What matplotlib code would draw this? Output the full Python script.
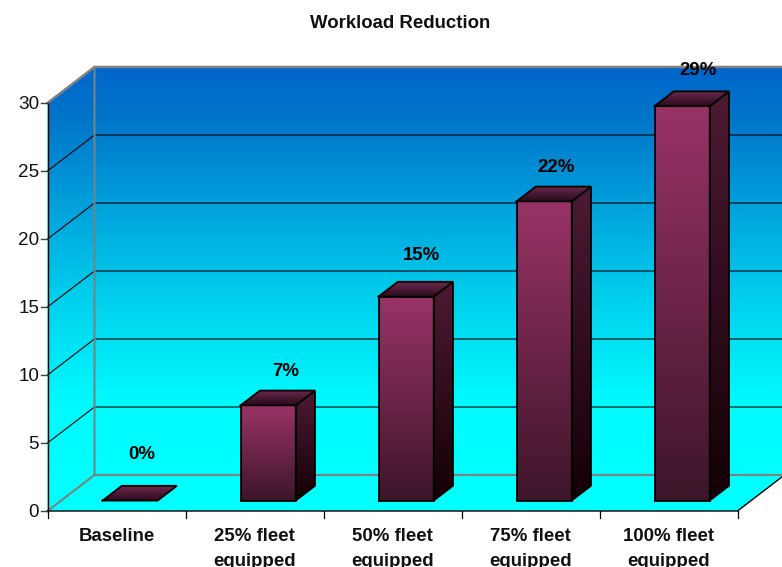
import numpy as np
import matplotlib
matplotlib.use("Agg")
import matplotlib.pyplot as plt
from matplotlib.colors import LinearSegmentedColormap
from matplotlib.patches import Polygon

plt.rcParams['font.family'] = ['Liberation Sans', 'DejaVu Sans']

categories = ['Baseline', '25% fleet\nequipped', '50% fleet\nequipped',
              '75% fleet\nequipped', '100% fleet\nequipped']
values = [0, 7, 15, 22, 29]
y_ticks = [0, 5, 10, 15, 20, 25, 30]
title = 'Workload Reduction'

# pixel layout of the 3D box
X0, Y0 = 47.5, 511.0
CAT_W = 138.0
UNIT = 13.6
DX, DY = 47.0, -36.0
BAR_W = 0.40
BAR_FRONT, BAR_BACK = 0.29, 0.70

# nudges for the value labels, in pixels
label_dx = [-8, -2, -4, -7, -3]
label_dy = [-46, -34, -41, -34, -36]


def proj(cat, val, depth=0.0):
    # category units, value units, depth 0..1 -> pixel position
    return (X0 + cat * CAT_W + depth * DX, Y0 - val * UNIT + depth * DY)


def gradient_poly(ax, pts, stops, y_top, y_bot):
    # vertical gradient clipped to a polygon
    cmap = LinearSegmentedColormap.from_list('g', stops)
    pts = np.array(pts)
    grad = np.linspace(0, 1, 256)[:, None]
    im = ax.imshow(grad, cmap=cmap, aspect='auto', zorder=ax_z[0],
                   extent=[pts[:, 0].min(), pts[:, 0].max(), y_bot, y_top])
    im.set_clip_path(Polygon(pts, closed=True, transform=ax.transData))
    ax_z[0] += 0.01


def edge(ax, pts, color='black', lw=1.0, close=False):
    pts = list(pts)
    if close:
        pts.append(pts[0])
    xs, ys = zip(*pts)
    ax.plot(xs, ys, color=color, lw=lw, solid_capstyle='projecting',
            solid_joinstyle='miter', zorder=ax_z[0])
    ax_z[0] += 0.01


ax_z = [1.0]
fig = plt.figure(figsize=(7.82, 5.67), dpi=100)
ax = fig.add_axes([0, 0, 1, 1])

n = len(categories)
top = y_ticks[-1]
wall_stops = [(0.0, '#0066CC'), (0.12, '#0074C8'), (0.3, '#0098D8'),
              (0.55, '#00CCEC'), (0.82, '#00FAFE'), (1.0, '#00FFFF')]
wall_top = proj(0, top, 1)[1]
wall_bot = proj(0, 0, 1)[1]

# back wall, left wall and floor
gradient_poly(ax, [proj(0, 0, 1), proj(0, top, 1), proj(n, top, 1), proj(n, 0, 1)],
              wall_stops, wall_top, wall_bot)
left_wall = [proj(0, 0, 0), proj(0, top, 0), proj(0, top, 1), proj(0, 0, 1)]
ax.add_patch(Polygon(left_wall, closed=True, fc='#00FFFF', ec='none', zorder=ax_z[0]))
ax_z[0] += 0.01
gradient_poly(ax, left_wall, wall_stops, wall_top, wall_bot)
floor = [proj(0, 0, 0), proj(n, 0, 0), proj(n, 0, 1), proj(0, 0, 1)]
ax.add_patch(Polygon(floor, closed=True, fc='#00FFFF', ec='none', zorder=ax_z[0]))
ax_z[0] += 0.01

# gridlines run across the left wall and along the back
for t in y_ticks[1:-1]:
    edge(ax, [proj(0, t, 0), proj(0, t, 1), proj(n, t, 1)], lw=0.8)

# grey wall outlines
GREY = '#808080'
edge(ax, [proj(0, 0, 1), proj(n, 0, 1)], GREY, 1.5)
edge(ax, [proj(0, 0, 0), proj(0, 0, 1), proj(0, top, 1)], GREY, 1.5)
edge(ax, [proj(0, top, 0), proj(0, top, 1), proj(n, top, 1)], GREY, 1.8)

# axis lines and ticks
edge(ax, [proj(0, 0, 0), proj(0, top, 0)], lw=1.0)
edge(ax, [proj(0, 0, 0), proj(n, 0, 0), proj(n, 0, 1)], lw=1.0)
for t in y_ticks:
    x, y = proj(0, t, 0)
    edge(ax, [(x - 7, y), (x, y)], '#404040', 1.0)
    ax.text(x - 8.5, y + 1.5, str(t), ha='right', va='center', fontsize=13.6,
            color='#111111', zorder=20)
for i in range(n + 1):
    x, y = proj(i, 0, 0)
    edge(ax, [(x, y), (x, y + 7)], lw=0.9)

# bars
for i, v in enumerate(values):
    l, r = i + 0.5 - BAR_W / 2, i + 0.5 + BAR_W / 2
    f0, f1 = proj(l, 0, BAR_FRONT), proj(r, 0, BAR_FRONT)
    ft0, ft1 = proj(l, v, BAR_FRONT), proj(r, v, BAR_FRONT)
    b1, bt0, bt1 = proj(r, 0, BAR_BACK), proj(l, v, BAR_BACK), proj(r, v, BAR_BACK)

    if v > 0:
        gradient_poly(ax, [f0, f1, ft1, ft0], ['#993366', '#3D1529'], ft0[1], f0[1])
        gradient_poly(ax, [f1, b1, bt1, ft1], ['#4D1A33', '#140006'], bt1[1], f1[1])
        edge(ax, [f0, f1, ft1, ft0], lw=1.3, close=True)
        edge(ax, [f1, b1, bt1, ft1], lw=1.3, close=True)
    gradient_poly(ax, [ft0, ft1, bt1, bt0], ['#6B2A4D', '#2B0A1C'], bt0[1], ft0[1])
    edge(ax, [ft0, ft1, bt1, bt0], lw=1.3, close=True)

    cx = (ft0[0] + ft1[0]) / 2 + (bt0[0] - ft0[0])
    ax.text(cx + label_dx[i], ft0[1] + label_dy[i], f'{v}%', ha='center', va='center',
            fontsize=13.4, fontweight='bold', color='black', zorder=20)

    # category label sits under the front edge
    x, y = proj(i + 0.5, 0, 0)
    lines = categories[i].split('\n')
    ax.text(x, y + 25.5, lines[0], ha='center', va='center', fontsize=13.4,
            fontweight='bold', color='#111111', zorder=20)
    if len(lines) > 1:
        ax.text(x, y + 50, lines[1], ha='center', va='center', fontsize=13.4,
                fontweight='bold', color='#111111', zorder=20)

ax.text(400, 24, title, ha='center', va='center', fontsize=13.4, fontweight='bold',
        color='#111111', zorder=20)

ax.set_xlim(0, 782)
ax.set_ylim(567, 0)
ax.axis('off')
fig.savefig('out.png', dpi=100, facecolor='white')
